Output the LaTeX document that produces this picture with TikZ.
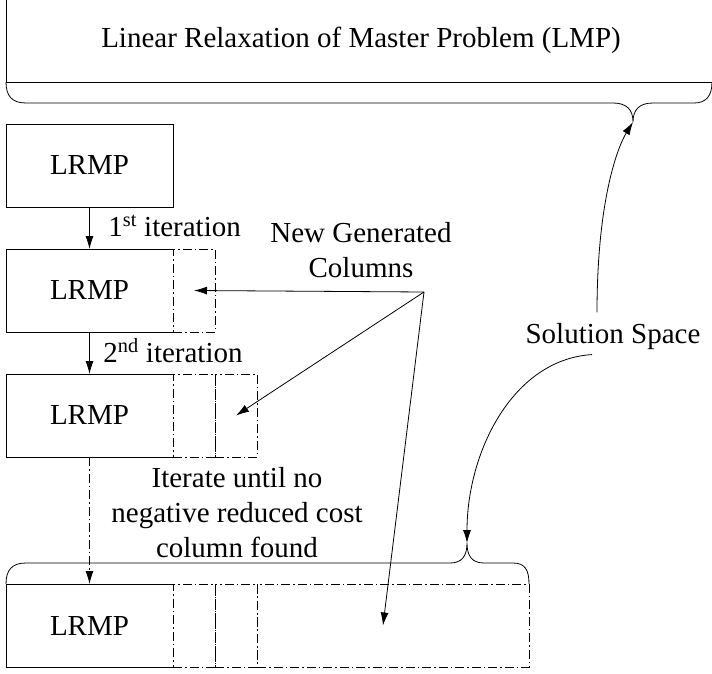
\documentclass[tikz,border=0pt]{standalone}
\usepackage{fontspec}
\setmainfont{Liberation Serif}
\usetikzlibrary{positioning,arrows.meta}

\tikzset{
  lrmp/.style={minimum width=167pt, minimum height=83pt, inner sep=0pt, outer sep=0pt},
  dashdot/.style={dash pattern=on 9pt off 3pt on 1.5pt off 3pt},
  column/.style={draw, dashdot, minimum width=#1, minimum height=83pt, inner sep=0pt, outer sep=0pt},
  column/.default=42pt,
  arr/.style={-{Latex[length=13pt,width=8pt]}},
  lbl/.style={inner sep=0pt, align=center}
}

\begin{document}
\begin{tikzpicture}[x=1pt, y=-1pt, line width=0.8pt, font=\fontsize{29}{35}\selectfont]
  \useasboundingbox (0,0) rectangle (712,674);

  % master problem
  \node (lmp) [lbl, anchor=base] at (361,48) {Linear Relaxation of Master Problem (LMP)};
  \draw (6,0) -- (6,82) -- (712,82);
  \draw (6,82) .. controls (6,96) and (12,103) .. (26,103) -- (613,103)
        .. controls (627,103) and (633,110) .. (633,122)
        .. controls (633,110) and (639,103) .. (653,103) -- (694,103)
        .. controls (706,103) and (712,96) .. (712,82);
  \coordinate (topcusp) at (633,122);

  % restricted problems
  \node (lrmp1) [lrmp, draw]                   at (89.5,165.5) {LRMP};
  \node (lrmp2) [lrmp, below=42pt of lrmp1]    {LRMP};
  \node (lrmp3) [lrmp, below=42pt of lrmp2]    {LRMP};
  \node (lrmp4) [lrmp, below=127pt of lrmp3]   {LRMP};
  \foreach \i in {2,3,4}
    \draw (lrmp\i.north east) -- (lrmp\i.north west) -- (lrmp\i.south west) -- (lrmp\i.south east);

  % added columns
  \node (col2a) [column, right=0pt of lrmp2]       {};
  \node (col3a) [column, right=0pt of lrmp3]       {};
  \node (col3b) [column, right=0pt of col3a]       {};
  \node (col4a) [column, right=0pt of lrmp4]       {};
  \node (col4b) [column, right=0pt of col4a]       {};
  \node (col4c) [column=272pt, right=0pt of col4b] {};

  \draw[arr]          (lrmp1) -- (lrmp2);
  \draw[arr]          (lrmp2) -- (lrmp3);
  \draw[arr, dashdot] (lrmp3) -- (lrmp4);

  \node (iter1) [lbl, anchor=base west] at (108,236) {1\textsuperscript{st} iteration};
  \node (iter2) [lbl, anchor=base west] at (103,362) {2\textsuperscript{nd} iteration};
  \node (until) [lbl]                   at (237,513) {Iterate until no\\negative reduced cost\\column found};

  % new generated columns
  \node (newcols) [lbl] at (361,250) {New Generated\\Columns};
  \coordinate (fork) at (424,292);
  \draw[arr] (fork) -- (col2a.center);
  \draw[arr] (fork) -- (col3b.center);
  \draw[arr] (fork) -- ([xshift=-10pt]col4c.center);

  % solution space
  \draw (lrmp4.north west) .. controls (6,570) and (12,563) .. (26,563) -- (450,563)
        .. controls (462,563) and (467,556) .. (467,543)
        .. controls (467,556) and (472,563) .. (484,563) -- (513,563)
        .. controls (525,563) and (529,570) .. (col4c.north east);
  \coordinate (botcusp) at (467,543);

  \node (solution) [lbl, anchor=base] at (613,343) {Solution Space};
  \draw[arr] ([xshift=-16pt, yshift=10pt]solution.north) .. controls +(0,-110) and +(-16,26) .. (topcusp);
  \draw[arr] ([xshift=-21pt, yshift=-5pt]solution.south) .. controls +(-80,5) and +(0,-90) .. (botcusp);
\end{tikzpicture}
\end{document}
